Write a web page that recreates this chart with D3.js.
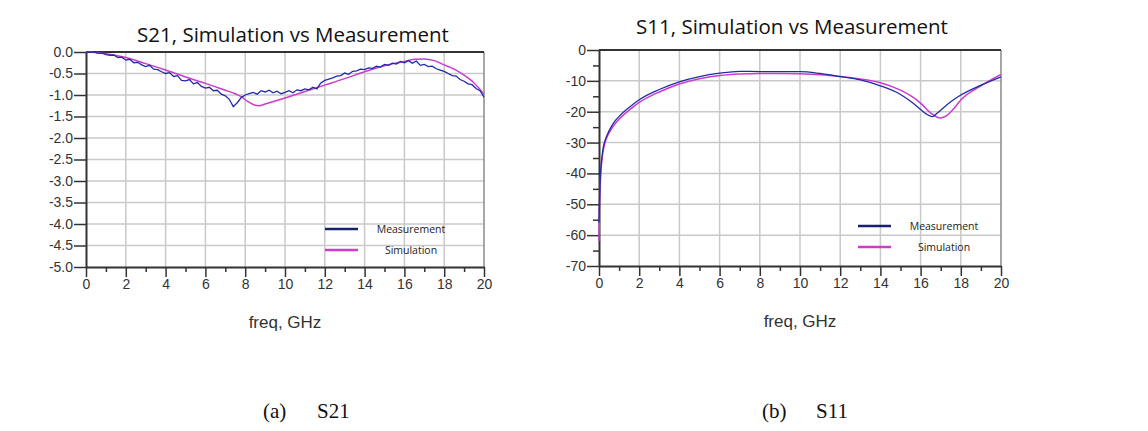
<!DOCTYPE html>
<html>
<head>
<meta charset="utf-8">
<script src="https://cdn.jsdelivr.net/npm/d3@7"></script>
<style>
  body { margin: 0; background: #fff; }
</style>
</head>
<body>
<div id="app"></div>
<script>
(function (d3) {

  'use strict'

  // S21 measurement, read every 0.2 GHz off the trace (noisy)
  const s21MeasFreq = d3.range(0, 20.0001, 0.2).map(f => +f.toFixed(1))
  const s21MeasDb = [
    0.00, -0.01, 0.00, -0.03, -0.02, -0.06, -0.08, -0.07, -0.13, -0.12,
    -0.19, -0.17, -0.25, -0.24, -0.30, -0.34, -0.31, -0.40, -0.41, -0.46,
    -0.50, -0.48, -0.57, -0.55, -0.66, -0.67, -0.64, -0.74, -0.71, -0.80,
    -0.84, -0.82, -0.90, -0.89, -0.98, -1.02, -1.10, -1.27, -1.18, -1.06,
    -1.00, -0.97, -0.94, -0.98, -0.90, -0.93, -0.89, -0.95, -0.91, -0.97,
    -0.94, -0.90, -0.95, -0.88, -0.90, -0.86, -0.88, -0.82, -0.86, -0.72,
    -0.66, -0.63, -0.60, -0.56, -0.55, -0.49, -0.52, -0.45, -0.44, -0.40,
    -0.41, -0.37, -0.38, -0.33, -0.35, -0.29, -0.31, -0.26, -0.28, -0.22,
    -0.25, -0.20, -0.26, -0.21, -0.31, -0.29, -0.34, -0.33, -0.39, -0.42,
    -0.45, -0.50, -0.55, -0.56, -0.64, -0.68, -0.74, -0.76, -0.85, -0.90,
    -1.05
  ]

  const s21SimFreq = [0, 0.5, 1, 1.5, 2, 3, 4, 5, 6, 7, 7.5, 7.8, 8.1, 8.5, 8.7, 9, 10, 11, 12, 13, 14, 15, 16, 16.5, 17, 17.5, 18, 18.5, 19, 19.5, 20]
  const s21SimDb = [0, -0.01, -0.04, -0.08, -0.13, -0.27, -0.42, -0.58, -0.73, -0.89, -0.97, -1.04, -1.14, -1.24, -1.25, -1.21, -1.07, -0.92, -0.77, -0.62, -0.46, -0.32, -0.22, -0.17, -0.16, -0.20, -0.30, -0.40, -0.54, -0.72, -0.98]

  const s11MeasFreq = [0, 0.03, 0.06, 0.1, 0.15, 0.2, 0.3, 0.4, 0.6, 0.8, 1, 1.5, 2, 3, 4, 5, 6, 7, 8, 9, 10, 11, 12, 13, 14, 15, 15.5, 16, 16.3, 16.6, 16.8, 17, 17.5, 18, 19, 20]
  const s11MeasDb = [-56, -48, -42, -37.5, -34.5, -32, -29.3, -27.6, -25, -23, -21.5, -18.6, -16.1, -12.8, -10.3, -8.6, -7.5, -6.9, -7.0, -7.0, -7.0, -7.6, -8.6, -9.7, -11.6, -14.4, -16.6, -19.3, -20.8, -21.6, -20.6, -19.5, -16.8, -14.6, -11.4, -8.7]

  const s11SimFreq = [0, 0.03, 0.06, 0.1, 0.15, 0.2, 0.3, 0.4, 0.6, 0.8, 1, 1.5, 2, 3, 4, 5, 6, 7, 8, 9, 10, 11, 12, 13, 14, 15, 15.5, 16, 16.5, 16.8, 17, 17.3, 17.6, 18, 19, 20]
  const s11SimDb = [-62, -50, -44, -39, -35.5, -33, -30, -28.2, -25.7, -23.9, -22.4, -19.5, -17, -13.6, -11.0, -9.3, -8.3, -7.8, -7.6, -7.6, -7.7, -8.0, -8.6, -9.4, -10.6, -13.0, -14.8, -17.2, -20.4, -21.7, -22.0, -21.3, -19.4, -16.2, -11.6, -7.9]

  const s21Ticks = d3.range(0, -5.0001, -0.5)
  const s11Ticks = d3.range(0, -70.0001, -10)
  const freqTicks = d3.range(0, 21, 2)
  const legendNames = ['Measurement', 'Simulation']

  const measColor = '#1f2ba8'
  const simColor = '#cc3ccc'
  const legendMeasColor = '#1a2070'

  const svg = d3.select('#app')
    .append('svg')
    .attr('width', 1148)
    .attr('height', 431)

  const zip = (xs, ys) => xs.map((x, i) => [x, ys[i]])

  const drawPanel = function (p) {
    const x = d3.scaleLinear().domain([0, 20]).range([p.left, p.right])
    const y = d3.scaleLinear().domain(p.yDomain).range([p.top, p.bottom])
    const g = svg.append('g')

    // grid
    g.selectAll('.gx').data(freqTicks.slice(1, -1)).enter()
      .append('line')
      .attr('x1', d => x(d)).attr('x2', d => x(d))
      .attr('y1', p.top).attr('y2', p.bottom)
      .attr('stroke', '#c9c9c9').attr('stroke-width', 1.5)
    g.selectAll('.gy').data(p.yTicks.slice(1, -1)).enter()
      .append('line')
      .attr('x1', p.left).attr('x2', p.right)
      .attr('y1', d => y(d)).attr('y2', d => y(d))
      .attr('stroke', '#c9c9c9').attr('stroke-width', 1.5)

    // frame: right side grey, top dark
    g.append('line').attr('x1', p.right).attr('x2', p.right)
      .attr('y1', p.top).attr('y2', p.bottom)
      .attr('stroke', '#8a8a8a').attr('stroke-width', 1.5)
    g.append('line').attr('x1', p.left).attr('x2', p.right)
      .attr('y1', p.top).attr('y2', p.top)
      .attr('stroke', '#333').attr('stroke-width', 2)

    // axes
    g.append('g')
      .attr('transform', 'translate(0,' + p.bottom + ')')
      .call(d3.axisBottom(x).tickValues(freqTicks).tickSize(10).tickPadding(2).tickSizeOuter(0))
    const xMinor = g.append('g')
      .attr('transform', 'translate(0,' + p.bottom + ')')
      .call(d3.axisBottom(x).tickValues(d3.range(1, 20, 2)).tickSize(5).tickFormat('').tickSizeOuter(0))
    g.append('g')
      .attr('transform', 'translate(' + p.left + ',0)')
      .call(d3.axisLeft(y).tickValues(p.yTicks).tickFormat(p.fmt).tickSize(12).tickPadding(1).tickSizeOuter(0))
    if (p.yMinor) {
      g.append('g')
        .attr('transform', 'translate(' + p.left + ',0)')
        .call(d3.axisLeft(y).tickValues(p.yMinor).tickSize(6).tickFormat('').tickSizeOuter(0))
        .select('.domain').remove()
    }
    xMinor.select('.domain').remove()
    g.selectAll('.domain').attr('stroke', '#333').attr('stroke-width', 2)
    g.selectAll('.tick line').attr('stroke', '#333').attr('stroke-width', 1.5)
    g.selectAll('.tick text')
      .attr('fill', '#333')
      .style('font-family', 'Liberation Sans, Arial, sans-serif')
      .style('font-size', '14px')

    // traces
    const line = d3.line().x(d => x(d[0])).y(d => y(d[1]))
    g.append('path')
      .attr('d', line.curve(d3.curveMonotoneX)(p.sim))
      .attr('fill', 'none').attr('stroke', simColor).attr('stroke-width', 1.5)
    g.append('path')
      .attr('d', line.curve(p.measCurve)(p.meas))
      .attr('fill', 'none').attr('stroke', measColor).attr('stroke-width', 1.3)

    // title + x label
    g.append('text')
      .attr('x', p.titleX).attr('y', p.titleY)
      .attr('text-anchor', 'middle')
      .style('font-family', 'Open Sans, Noto Sans, sans-serif')
      .style('font-size', '20.5px')
      .attr('fill', '#111')
      .text(p.title)
    g.append('text')
      .attr('x', (p.left + p.right) / 2).attr('y', p.bottom + 61)
      .attr('text-anchor', 'middle')
      .style('font-family', 'Liberation Sans, Arial, sans-serif')
      .style('font-size', '17px')
      .attr('fill', '#333')
      .text('freq, GHz')

    // legend
    const lg = g.append('g')
    lg.selectAll('line').data(legendNames).enter()
      .append('line')
      .attr('x1', p.legX).attr('x2', p.legX + 33)
      .attr('y1', (d, i) => p.legY + i * 21).attr('y2', (d, i) => p.legY + i * 21)
      .attr('stroke', (d, i) => i === 0 ? legendMeasColor : simColor)
      .attr('stroke-width', 2.5)
    lg.selectAll('text').data(legendNames).enter()
      .append('text')
      .attr('x', p.legX + 86).attr('y', (d, i) => p.legY + i * 21 + 4)
      .attr('text-anchor', 'middle')
      .style('font-family', 'Open Sans, Noto Sans, sans-serif')
      .style('font-size', '10.5px')
      .attr('fill', '#222')
      .text(d => d)

    // caption
    const cap = svg.append('text')
      .attr('y', 418)
      .style('font-family', 'Liberation Serif, DejaVu Serif, serif')
      .style('font-size', '21px')
      .attr('fill', '#111')
    cap.append('tspan').attr('x', p.capX).text(p.caption[0])
    cap.append('tspan').attr('x', p.capX + 54).text(p.caption[1])
  }

  drawPanel({
    left: 86, right: 484, top: 52, bottom: 267,
    yDomain: [0, -5], yTicks: s21Ticks, fmt: d => d.toFixed(1),
    sim: zip(s21SimFreq, s21SimDb), meas: zip(s21MeasFreq, s21MeasDb), measCurve: d3.curveLinear,
    title: 'S21, Simulation vs Measurement', titleX: 293, titleY: 42,
    legX: 325, legY: 229, caption: ['(a)', 'S21'], capX: 263
  })

  drawPanel({
    left: 599, right: 1001, top: 50, bottom: 266,
    yDomain: [0, -70], yTicks: s11Ticks, fmt: d => String(d),
    yMinor: d3.range(-5, -70, -10),
    sim: zip(s11SimFreq, s11SimDb), meas: zip(s11MeasFreq, s11MeasDb), measCurve: d3.curveMonotoneX,
    title: 'S11, Simulation vs Measurement', titleX: 792, titleY: 34,
    legX: 858, legY: 226, caption: ['(b)', 'S11'], capX: 762
  })

}(d3))
</script>
</body>
</html>
